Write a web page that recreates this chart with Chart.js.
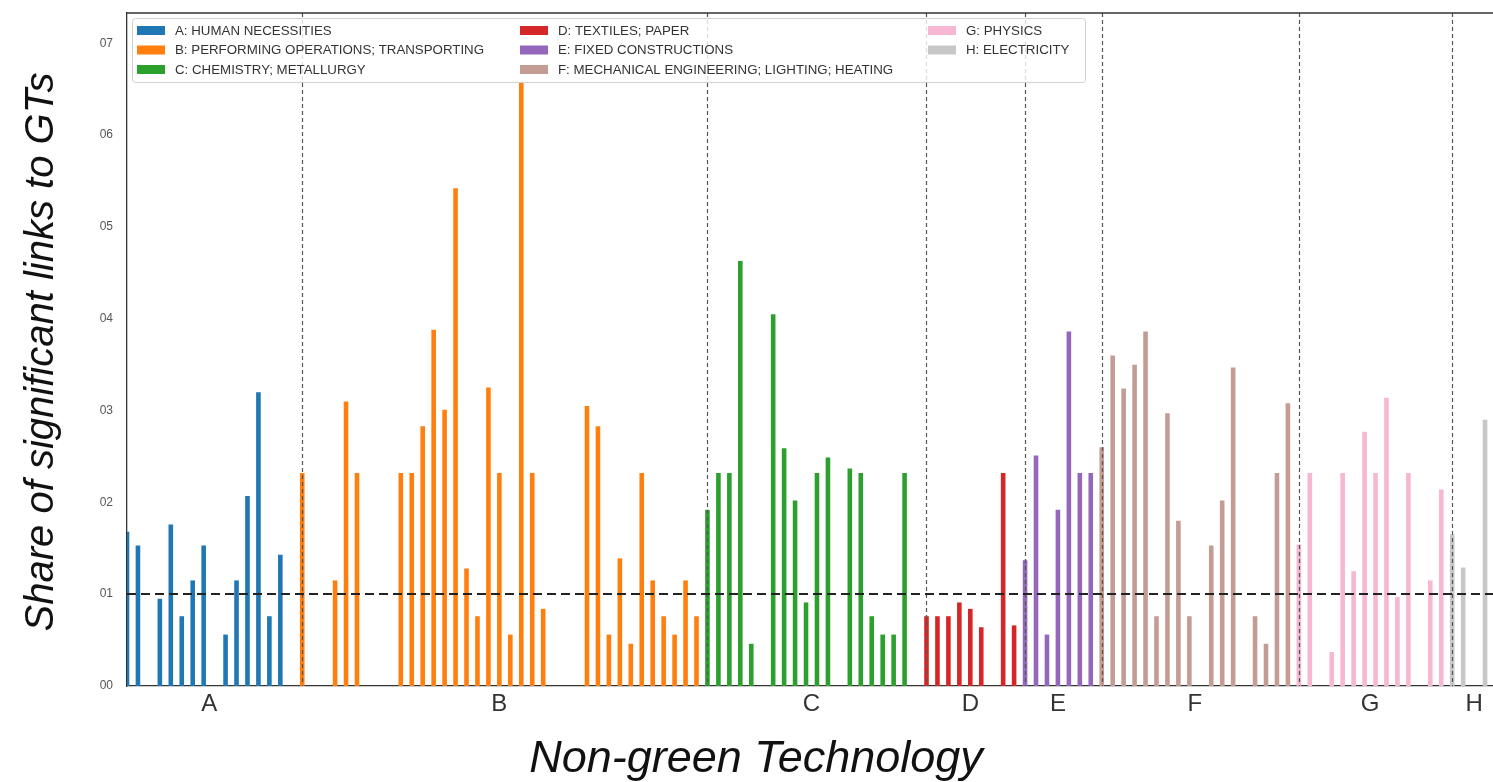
<!DOCTYPE html>
<html>
<head>
<meta charset="utf-8">
<script src="https://cdn.jsdelivr.net/npm/chart.js@4.4.1/dist/chart.umd.min.js"></script>
<style>
  html, body { margin: 0; padding: 0; background: #fff; overflow: hidden; }
  #wrap { position: absolute; left: 0; top: 0; width: 1500px; height: 782px; }
</style>
</head>
<body>
<div id="wrap"><canvas id="chart" width="1500" height="782"></canvas></div>
<script>
// CPC sections, one bar per sub-class (0 = no significant links)
const sections = ['A', 'B', 'C', 'D', 'E', 'F', 'G', 'H'];
const sectionNames = [
    'A: HUMAN NECESSITIES',
    'B: PERFORMING OPERATIONS; TRANSPORTING',
    'C: CHEMISTRY; METALLURGY',
    'D: TEXTILES; PAPER',
    'E: FIXED CONSTRUCTIONS',
    'F: MECHANICAL ENGINEERING; LIGHTING; HEATING',
    'G: PHYSICS',
    'H: ELECTRICITY'
];
const sectionColors = ['#1f77b4', '#ff7f0e', '#2ca02c', '#d62728', '#9467bd', '#c49c94', '#f7b6d2', '#c7c7c7'];

const valuesA = [0.0168, 0.0153, 0, 0.0095, 0.0176, 0.0076, 0.0115, 0.0153, 0, 0.0056, 0.0115, 0.0207, 0.0320, 0.0076, 0.0143, 0];
const valuesB = [0.0232, 0, 0, 0.0115, 0.0310, 0.0232, 0, 0, 0, 0.0232, 0.0232, 0.0283, 0.0388, 0.0301, 0.0542, 0.0128, 0.0076,
                 0.0325, 0.0232, 0.0056, 0.0657, 0.0232, 0.0084, 0, 0, 0, 0.0305, 0.0283, 0.0056, 0.0139, 0.0046, 0.0232,
                 0.0115, 0.0076, 0.0056, 0.0115, 0.0076];
const valuesC = [0.0192, 0.0232, 0.0232, 0.0463, 0.0046, 0, 0.0405, 0.0259, 0.0202, 0.0091, 0.0232, 0.0249, 0, 0.0237,
                 0.0232, 0.0076, 0.0056, 0.0056, 0.0232, 0];
const valuesD = [0.0076, 0.0076, 0.0076, 0.0091, 0.0084, 0.0064, 0, 0.0232, 0.0066];
const valuesE = [0.0137, 0.0251, 0.0056, 0.0192, 0.0386, 0.0232, 0.0232];
const valuesF = [0.0260, 0.0360, 0.0324, 0.0350, 0.0386, 0.0076, 0.0297, 0.0180, 0.0076, 0, 0.0153, 0.0202, 0.0347, 0,
                 0.0076, 0.0046, 0.0232, 0.0308];
const valuesG = [0.0154, 0.0232, 0, 0.0037, 0.0232, 0.0125, 0.0277, 0.0232, 0.0314, 0.0097, 0.0232, 0, 0.0115, 0.0214];
const valuesH = [0.0165, 0.0129, 0, 0.0290, 0.0158];

const yTicks = [0, 0.01, 0.02, 0.03, 0.04, 0.05, 0.06, 0.07];
const yTickLabels = ['00', '01', '02', '03', '04', '05', '06', '07'];
const threshold = 0.01;

const xTitle = 'Non-green Technology';
const yTitle = 'Share of significant links to GTs';

const FONT = '"Liberation Sans", Arial, Helvetica, sans-serif';

// flatten the sections into one category axis
const sectionValues = [valuesA, valuesB, valuesC, valuesD, valuesE, valuesF, valuesG, valuesH];
const labels = [];
const values = [];
const colors = [];
const sectionStart = [];
sectionValues.forEach((arr, s) => {
    sectionStart.push(values.length);
    arr.forEach((v, i) => {
        labels.push(sections[s] + (i + 1));
        values.push(v);
        colors.push(sectionColors[s]);
    });
});

const overlay = {
    id: 'overlay',
    afterDatasetsDraw(chart) {
        const { ctx, chartArea: area, scales: { x, y } } = chart;
        ctx.save();

        // section separators
        ctx.strokeStyle = '#555';
        ctx.lineWidth = 1.2;
        ctx.setLineDash([4, 3]);
        sectionStart.slice(1).forEach(i => {
            const px = Math.round(x.getPixelForValue(i)) + 0.5;
            ctx.beginPath();
            ctx.moveTo(px, area.top);
            ctx.lineTo(px, area.bottom);
            ctx.stroke();
        });

        // 1% reference line
        const py = Math.round(y.getPixelForValue(threshold));
        ctx.strokeStyle = '#222';
        ctx.lineWidth = 2;
        ctx.setLineDash([9, 5]);
        ctx.beginPath();
        ctx.moveTo(area.left, py);
        ctx.lineTo(area.right, py);
        ctx.stroke();

        // top spine
        ctx.setLineDash([]);
        ctx.strokeStyle = '#333';
        ctx.lineWidth = 1.3;
        ctx.beginPath();
        ctx.moveTo(area.left, area.top);
        ctx.lineTo(area.right, area.top);
        ctx.stroke();
        ctx.restore();
    },
    afterDraw(chart) {
        const { ctx, scales: { x } } = chart;
        ctx.save();

        // section letters under the axis
        ctx.fillStyle = '#333';
        ctx.font = '24px ' + FONT;
        ctx.textAlign = 'center';
        ctx.textBaseline = 'middle';
        sectionValues.forEach((arr, s) => {
            const mid = sectionStart[s] + (arr.length - 1) / 2;
            ctx.fillText(sections[s], x.getPixelForValue(mid), 704);
        });

        // axis titles
        ctx.fillStyle = '#111';
        ctx.font = 'italic 45px ' + FONT;
        ctx.fillText(xTitle, 756, 759);
        ctx.save();
        ctx.translate(42, 352);
        ctx.rotate(-Math.PI / 2);
        ctx.font = 'italic 40px ' + FONT;
        ctx.fillText(yTitle, 0, 0);
        ctx.restore();

        // legend, three columns filled top to bottom
        ctx.fillStyle = 'rgba(255,255,255,0.8)';
        ctx.strokeStyle = '#d0d0d0';
        ctx.lineWidth = 1;
        ctx.beginPath();
        ctx.roundRect(132.5, 18.5, 953, 64, 3);
        ctx.fill();
        ctx.stroke();

        const colX = [137, 520, 928];
        const rowY = [30.5, 50, 69.5];
        ctx.font = '13.3px ' + FONT;
        ctx.textAlign = 'left';
        sectionNames.forEach((name, i) => {
            const cx = colX[Math.floor(i / 3)];
            const cy = rowY[i % 3];
            ctx.fillStyle = sectionColors[i];
            ctx.fillRect(cx, cy - 4.5, 28, 9);
            ctx.fillStyle = '#333';
            ctx.fillText(name, cx + 38, cy + 0.5);
        });
        ctx.restore();
    }
};

new Chart(document.getElementById('chart'), {
    type: 'bar',
    data: {
        labels: labels,
        datasets: [{
            data: values,
            backgroundColor: colors,
            barPercentage: 0.42,
            categoryPercentage: 1.0
        }]
    },
    options: {
        responsive: false,
        animation: false,
        layout: { padding: { top: 13, right: 4, left: 0, bottom: 0 } },
        plugins: {
            legend: { display: false },
            tooltip: { enabled: false }
        },
        scales: {
            x: {
                offset: false,
                grid: { display: false },
                ticks: { display: false },
                border: { color: '#333', width: 1.3 },
                afterFit: (s) => { s.height = 96; s.paddingLeft = 0; s.paddingRight = 0; }
            },
            y: {
                min: 0,
                max: 0.0733,
                grid: { display: false, drawTicks: false },
                border: { color: '#333', width: 1.3 },
                ticks: {
                    padding: 14,
                    color: '#555',
                    font: { family: FONT, size: 12 },
                    callback: (v) => yTickLabels[Math.round(v * 100)]
                },
                afterBuildTicks: (s) => { s.ticks = yTicks.map(v => ({ value: v })); },
                afterFit: (s) => { s.width = 127; s.paddingTop = 0; s.paddingBottom = 0; }
            }
        }
    },
    plugins: [overlay]
});
</script>
</body>
</html>
